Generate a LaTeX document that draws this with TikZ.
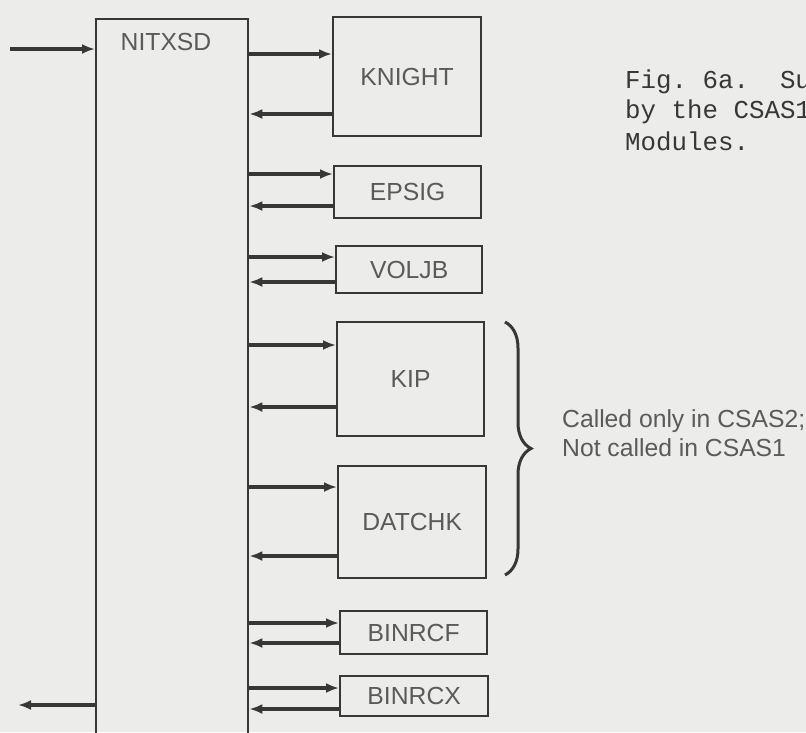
\documentclass[tikz,border=0pt]{standalone}
\usepackage{fontspec}
\setmainfont{Liberation Sans}
\newfontfamily\capfont{Liberation Mono}
\usetikzlibrary{arrows.meta,decorations.pathreplacing}
\definecolor{paper}{RGB}{236,236,234}
\definecolor{ink}{RGB}{55,55,55}
\definecolor{txt}{RGB}{90,90,90}
\begin{document}
\begin{tikzpicture}[x=1pt,y=-1pt,
 box/.style={draw=ink,line width=2.3pt,rectangle,anchor=north west,inner sep=0pt,text=txt,font=\fontsize{24.7}{29}\selectfont},
 arr/.style={draw=ink,line width=3.4pt,-{Latex[length=13pt,width=10pt]}},
 lbl/.style={text=txt,font=\fontsize{24.7}{29}\selectfont,anchor=base west,inner sep=0pt},
 captext/.style={text=ink,font=\capfont\fontsize{25.8}{32}\selectfont,anchor=base west,inner sep=0pt}]
\fill[paper] (0,0) rectangle (806,732);
\useasboundingbox (0,0) rectangle (806,732);
\clip (0,0) rectangle (806,732);

% main module
\node[box, minimum width=152pt, minimum height=760pt] (nit) at (95,18) {};
\node[lbl, anchor=center] (nitlbl) at (166,42) {NITXSD};

% called modules
\node[box, minimum width=148pt, minimum height=119pt] (knight) at (332,16) {KNIGHT};
\node[box, minimum width=147pt, minimum height=52pt] (epsig) at (333,165) {EPSIG};
\node[box, minimum width=146pt, minimum height=47pt] (voljb) at (335,245) {VOLJB};
\node[box, minimum width=147pt, minimum height=114pt] (kip) at (336,321) {KIP};
\node[box, minimum width=148pt, minimum height=112pt] (datchk) at (337,465) {DATCHK};
\node[box, minimum width=147pt, minimum height=43pt] (binrcf) at (339,610) {BINRCF};
\node[box, minimum width=148pt, minimum height=40pt] (binrcx) at (339,675) {BINRCX};

% call / return arrows
\draw[arr] (nit.east |- 0,54) -- (knight.west |- 0,54);
\draw[arr] (knight.west |- 0,114) -- (nit.east |- 0,114);
\draw[arr] (nit.east |- 0,174) -- (epsig.west |- 0,174);
\draw[arr] (epsig.west |- 0,206) -- (nit.east |- 0,206);
\draw[arr] (nit.east |- 0,257) -- (voljb.west |- 0,257);
\draw[arr] (voljb.west |- 0,282) -- (nit.east |- 0,282);
\draw[arr] (nit.east |- 0,345) -- (kip.west |- 0,345);
\draw[arr] (kip.west |- 0,407) -- (nit.east |- 0,407);
\draw[arr] (nit.east |- 0,487) -- (datchk.west |- 0,487);
\draw[arr] (datchk.west |- 0,556) -- (nit.east |- 0,556);
\draw[arr] (nit.east |- 0,623) -- (binrcf.west |- 0,623);
\draw[arr] (binrcf.west |- 0,643) -- (nit.east |- 0,643);
\draw[arr] (nit.east |- 0,688) -- (binrcx.west |- 0,688);
\draw[arr] (binrcx.west |- 0,709) -- (nit.east |- 0,709);

% entry and exit
\coordinate (in) at (10,49);
\coordinate (out) at (18,705);
\draw[arr] (in) -- (nit.west |- in);
\draw[arr] (nit.west |- out) -- (out);

% brace and note
\draw[ink, line width=3pt, decorate, decoration={brace, amplitude=26pt}] (505,322) -- (505,575);
\node[lbl] (called) at (562,427) {Called only in CSAS2;};
\node[lbl] (notc) at (562,456) {Not called in CSAS1};

% caption (cut off at the right edge, as in the reference)
\node[captext] (c1) at (625,88) {\frenchspacing Fig. 6a.\ \ Su};
\node[captext] (c2) at (625,118) {\frenchspacing by the CSAS1};
\node[captext] (c3) at (625,150) {\frenchspacing Modules.};
\end{tikzpicture}
\end{document}
